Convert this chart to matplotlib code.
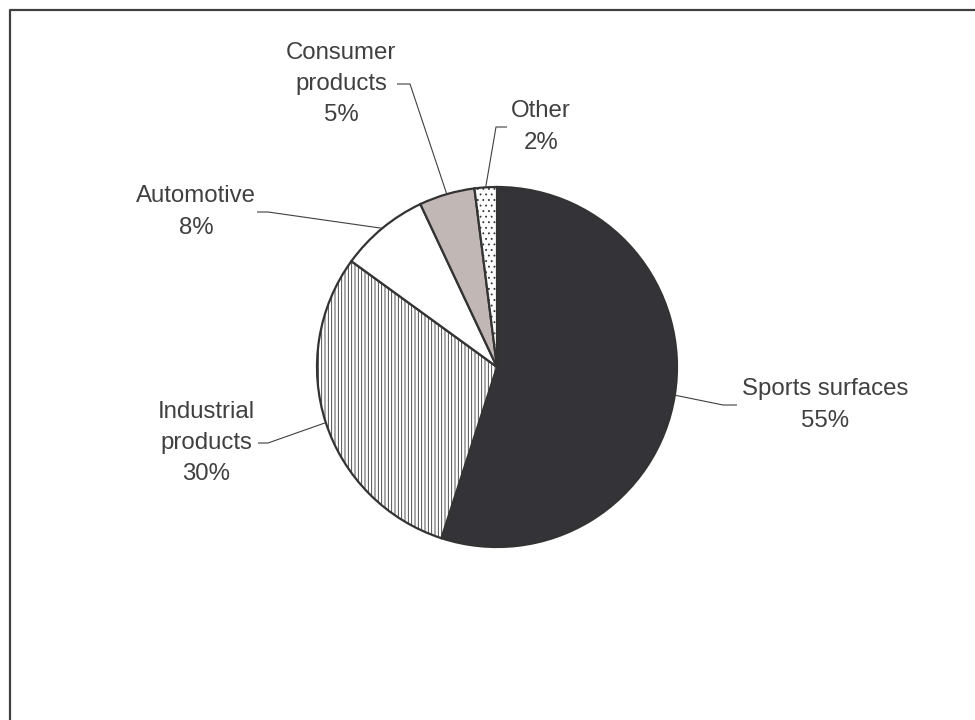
import numpy as np
import matplotlib
matplotlib.use("Agg")
import matplotlib.pyplot as plt
from matplotlib.lines import Line2D

# parts du marché, dans l'ordre horaire depuis midi
segments = ["Sports surfaces", "Industrial\nproducts", "Automotive",
            "Consumer\nproducts", "Other"]
parts = [55, 30, 8, 5, 2]

couleurs = ["#343438", "white", "white", "#c1b7b5", "white"]
hachures = [None, "|||||", None, None, "..."]

# placement des étiquettes (pixels, origine en haut à gauche)
etiq_xy = [(825, 405), (206, 443), (196, 212), (341, 84), (541, 127)]
coude_x = [723, 268, 268, 410, 496]
bout_x = [737, 258, 257, 397, 507]

W, H = 975, 720
CENTRE = (497, 367)
RAYON = 180
GRIS = "#404040"

plt.rcParams["font.family"] = ["Liberation Sans", "DejaVu Sans"]
plt.rcParams["hatch.linewidth"] = 0.6

fig = plt.figure(figsize=(W / 100, H / 100), dpi=100)
ax = fig.add_axes([0, 0, 1, 1])

# axe inversé -> départ à -90 et sens trigo pour tourner en horaire à l'écran
wedges, _ = ax.pie(parts, colors=couleurs, startangle=-90, counterclock=True,
                   center=CENTRE, radius=RAYON, frame=True,
                   wedgeprops=dict(edgecolor="#333333", linewidth=1.6))
for w, h in zip(wedges, hachures):
    if h:
        w.set_hatch(h)
ax.set_xlim(0, W)
ax.set_ylim(H, 0)          # y inversé : coordonnées en pixels
ax.set_aspect("equal")
ax.axis("off")

for w, nom, p, (tx, ty), cx, bx in zip(wedges, segments, parts, etiq_xy, coude_x, bout_x):
    a = np.deg2rad((w.theta1 + w.theta2) / 2)
    px = CENTRE[0] + RAYON * np.cos(a)
    py = CENTRE[1] + RAYON * np.sin(a)
    ax.plot([px, cx, bx], [py, ty, ty], color=GRIS, lw=0.8, solid_capstyle="butt")
    ax.text(tx, ty, f"{nom}\n{p}%", ha="center", va="center", multialignment="center",
            fontsize=17.3, color=GRIS, linespacing=1.55)

# cadre : bord gauche et bord haut seulement
m = 9.5
fig.add_artist(Line2D([m / W, m / W, 1], [0, 1 - m / H, 1 - m / H],
                      transform=fig.transFigure, color=GRIS, lw=1.6))

fig.savefig("out.png", dpi=100, facecolor="white")
